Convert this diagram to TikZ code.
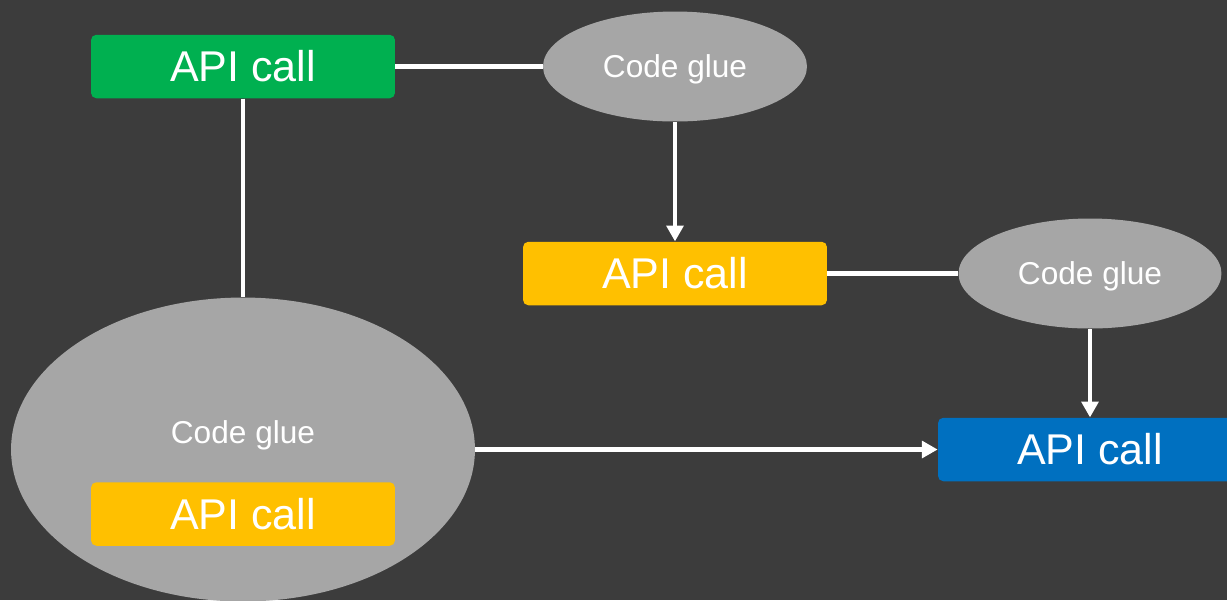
\documentclass[tikz,border=0pt]{standalone}
\usepackage{fontspec}
\setmainfont{Liberation Sans}
\usetikzlibrary{shapes.geometric,arrows.meta,positioning}
\definecolor{bgdark}{HTML}{3C3C3C}
\definecolor{glue}{HTML}{A6A6A6}
\definecolor{apigreen}{HTML}{00B050}
\definecolor{apiyellow}{HTML}{FFC000}
\definecolor{apiblue}{HTML}{0070C0}
\tikzset{%
	apibox/.style={rectangle, rounded corners=3pt, minimum width=6.08cm, minimum height=1.27cm, inner sep=0pt, text=white, font=\fontsize{24.5}{29}\selectfont},
	gluenode/.style={ellipse, fill=glue, inner sep=0pt, text depth=0pt, text=white, font=\fontsize{18}{22}\selectfont},
	conn/.style={draw=white, line width=2.3pt},
	flow/.style={conn, -{Triangle[length=9pt, width=9.5pt]}}
}
\begin{document}
\begin{tikzpicture}[x=0.02cm, y=-0.02cm]
		\fill[bgdark] (0,0) rectangle (1227,600);
		\useasboundingbox (0,0) rectangle (1227,600);
		\clip (0,0) rectangle (1227,600);
		
		\node[apibox, fill=apigreen] (start) at (243,66.5) {API call};
		\node[gluenode, minimum width=5.28cm, minimum height=2.2cm] (glueone) at (675,66.5) {Code glue};
		\node[apibox, fill=apiyellow] (middle) at (675,273.5) {API call};
		\node[gluenode, minimum width=5.26cm, minimum height=2.2cm] (gluetwo) at (1090,273.5) {Code glue};
		\node[apibox, fill=apiblue] (final) at (1090,449.5) {API call};
		
		\node[gluenode, minimum width=9.28cm, minimum height=6.08cm] (gluebig) at (243,449.5) {};
		\node[text=white, text depth=0pt, font=\fontsize{18}{22}\selectfont] (gluebigtext) at (243,432) {Code glue};
		\node[apibox, fill=apiyellow] (inner) at (243,514) {API call};
		
		\path[conn] (start.east) -- (glueone.west);
		\path[flow] (glueone.south) -- (middle.north);
		\path[conn] (middle.east) -- (gluetwo.west);
		\path[flow] (gluetwo.south) -- (final.north);
		\path[conn] (start.south) -- (gluebig.north);
		\path[flow] (gluebig.east) -- (final.west);
	\end{tikzpicture}
\end{document}
